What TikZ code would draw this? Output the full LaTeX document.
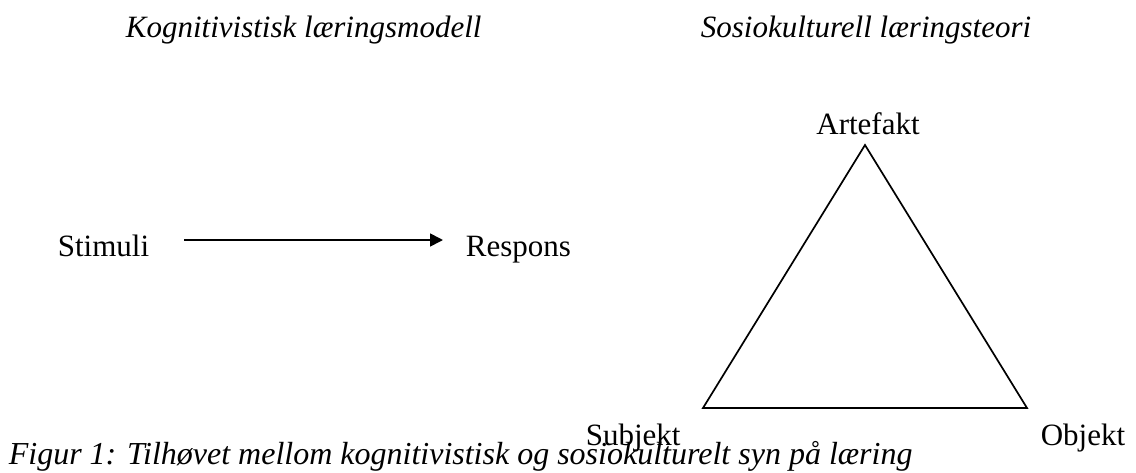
\documentclass[tikz,border=0pt]{standalone}
\usepackage{fontspec}
\setmainfont{Liberation Serif}
\usetikzlibrary{arrows.meta}
\begin{document}
\begin{tikzpicture}[x = 0.5pt, y = -0.5pt, line width = 0.85pt, inner sep = 0pt, font = \fontsize{15.5}{18}\selectfont]
			\useasboundingbox (0, 0) rectangle (1136, 472);
			\node[anchor = base west, font = \fontsize{15.5}{18}\selectfont\itshape] (kog) at (125, 37) {Kognitivistisk læringsmodell};
			\node[anchor = base west, font = \fontsize{15.5}{18}\selectfont\itshape] (sos) at (700, 37) {Sosiokulturell læringsteori};
			% venstre modell
			\node[anchor = base west] (stimuli) at (57, 256) {Stimuli};
			\node[anchor = base west] (respons) at (465, 256) {Respons};
			\coordinate (pil) at (0, 240);
				\draw[-{Triangle[length = 6.5pt, width = 6.5pt]}, shorten < = 17pt, shorten > = 11pt] (stimuli.east |- pil) -- (respons.west |- pil);
			% trekanten
			\coordinate (top) at (865, 145);
			\coordinate (left) at (703, 408);
			\coordinate (right) at (1027, 408);
				\draw[line join = miter] (top) -- (right) -- (left) -- cycle;
			\node[anchor = base] (artefakt) at (868, 134) {Artefakt};
			\node[anchor = base west] (subjekt) at (585, 445) {Subjekt};
			\node[anchor = base west] (objekt) at (1040, 445) {Objekt};
			\node[anchor = base west, font = \fontsize{16}{18}\selectfont\itshape] (figur) at (8, 464) {Figur 1: Tilhøvet mellom kognitivistisk og sosiokulturelt syn på læring};
		\end{tikzpicture}
\end{document}
